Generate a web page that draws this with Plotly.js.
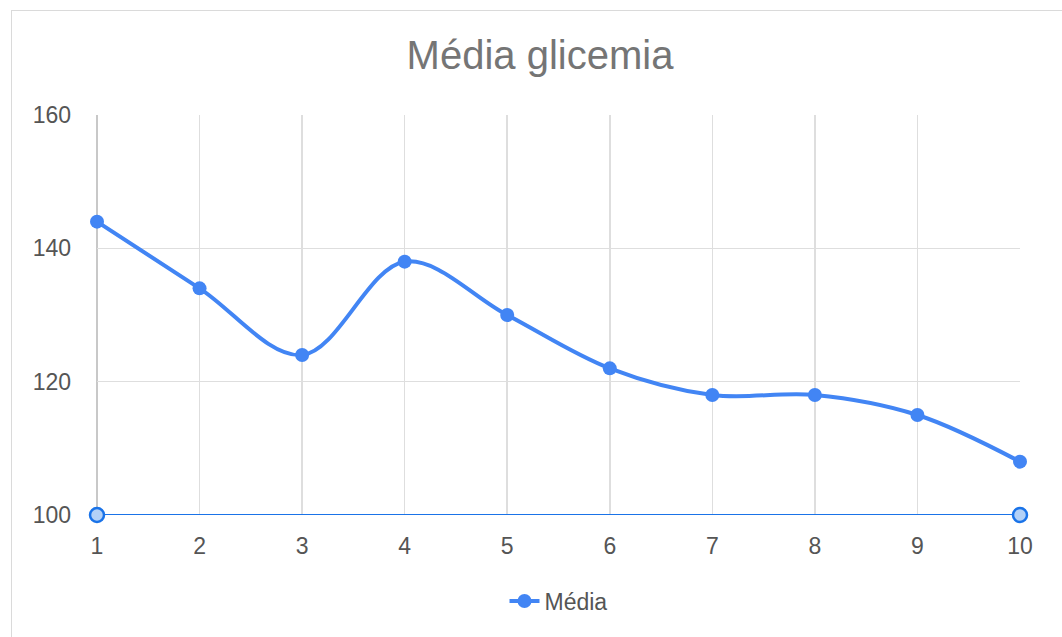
<!DOCTYPE html>
<html>
<head>
<meta charset="utf-8">
<script src="https://cdn.plot.ly/plotly-3.0.1.min.js"></script>
<style>
html,body{margin:0;padding:0;background:#fff;overflow:hidden;}
#chart{position:absolute;left:0;top:0;width:1062px;height:637px;}
#frame{position:absolute;left:11px;top:10px;width:1100px;height:700px;border:1px solid #dadada;pointer-events:none;}
</style>
</head>
<body>
<div id="chart"></div>
<div id="frame"></div>
<script>
const days = [1,2,3,4,5,6,7,8,9,10];
const media = [144,134,124,138,130,122,118,118,115,108];
const selX = [1,10];
const selY = [100,100];
const yTicks = [100,120,140,160];

const FONT = '"Liberation Sans", Arial, sans-serif';

const traces = [
  {
    x: selX, y: selY, type: 'scatter', mode: 'lines+markers',
    line: {color: '#1a73e8', width: 2},
    marker: {size: 14, color: '#b3d1f7', line: {color: '#1a73e8', width: 2.5}},
    showlegend: false, hoverinfo: 'skip', cliponaxis: false
  },
  {
    x: days, y: media, type: 'scatter', mode: 'lines+markers', name: 'Média',
    line: {color: '#4285f4', width: 4, shape: 'spline', smoothing: 1},
    marker: {size: 14, color: '#4285f4'},
    cliponaxis: false
  }
];

const layout = {
  width: 1062, height: 637,
  margin: {l: 97, r: 42, t: 115, b: 122},
  paper_bgcolor: 'rgba(0,0,0,0)', plot_bgcolor: '#fff',
  font: {family: FONT, color: '#555'},
  title: {text: 'Média glicemia', x: 540/1062, xanchor: 'center', xref: 'container',
          y: 1 - 55/637, yanchor: 'middle', yref: 'container',
          font: {size: 40, color: '#757575', family: FONT}},
  xaxis: {range: [1, 10], tickvals: days, ticktext: days.map(String),
          showgrid: true, gridcolor: '#dedede', gridwidth: 1.5, zeroline: false,
          showline: false, ticks: '', ticklabelstandoff: 15,
          tickfont: {size: 23, color: '#555', family: FONT}},
  yaxis: {range: [100, 160], tickvals: yTicks, ticktext: yTicks.map(String),
          showgrid: true, gridcolor: '#dedede', gridwidth: 1.5, zeroline: false,
          showline: false, ticks: '', ticklabelstandoff: 25,
          tickfont: {size: 23, color: '#555', family: FONT}},
  shapes: [
    {type: 'line', xref: 'paper', yref: 'paper', x0: 0, x1: 0, y0: 0, y1: 1,
     line: {color: '#c8c8c8', width: 2}, layer: 'below'}
  ],
  legend: {orientation: 'h', x: 0.5, xanchor: 'center', y: -0.215, yanchor: 'middle',
           font: {size: 23, color: '#555', family: FONT}},
  showlegend: true
};

Plotly.newPlot('chart', traces, layout, {displayModeBar: false, staticPlot: true});
</script>
</body>
</html>
